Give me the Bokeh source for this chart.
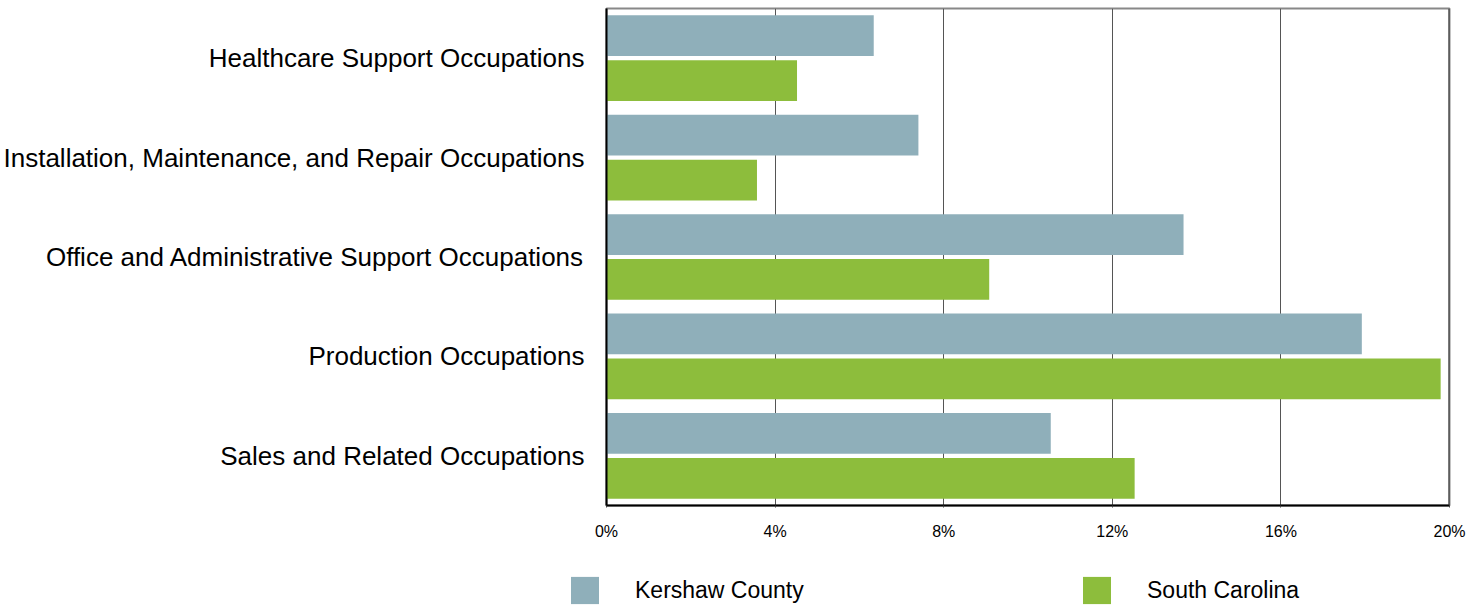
from bokeh.plotting import figure
from bokeh.layouts import column
from bokeh.models import ColumnDataSource, FactorRange, Legend, LegendItem, Span, FixedTicker
from bokeh.transform import dodge
from bokeh.embed import file_html
from bokeh.resources import INLINE

categories = ["Healthcare Support Occupations",
              "Installation, Maintenance, and Repair Occupations",
              "Office and Administrative Support Occupations",
              "Production Occupations",
              "Sales and Related Occupations"]
kershaw = [6.34, 7.40, 13.69, 17.92, 10.54]
south_carolina = [4.52, 3.57, 9.08, 19.79, 12.53]
tick_values = [0, 4, 8, 12, 16, 20]
tick_labels = ["0%", "4%", "8%", "12%", "16%", "20%"]
series_names = ["Kershaw County", "South Carolina"]
colors = ["#8FAFBA", "#8DBD3C"]

src = ColumnDataSource(dict(cat=categories, k=kershaw, sc=south_carolina))

W = 1481
H1, H2 = 555, 51
p = figure(width=W, height=H1, output_backend="svg", toolbar_location=None,
           y_range=FactorRange(factors=list(reversed(categories)), range_padding=0),
           x_range=(0, 20))
p.frame_align = False
p.min_border_left = 603
p.min_border_right = 32
p.min_border_top = 8
p.min_border_bottom = H1 - 505

p.hbar(y=dodge("cat", 0.226, range=p.y_range), right="k", left=0, height=0.41,
       source=src, color=colors[0], line_color=None)
p.hbar(y=dodge("cat", -0.226, range=p.y_range), right="sc", left=0, height=0.41,
       source=src, color=colors[1], line_color=None)

p.xaxis.ticker = FixedTicker(ticks=tick_values)
p.xaxis.major_label_overrides = {v: l for v, l in zip(tick_values, tick_labels)}
p.xaxis.major_label_text_font = "'Liberation Sans', Arial"
p.xaxis.major_label_text_font_size = "16px"
p.xaxis.major_label_text_color = "#000000"
p.xaxis.major_label_standoff = 15
p.xaxis.major_tick_in = 0
p.xaxis.major_tick_out = 2
p.xaxis.major_tick_line_color = "#444444"
p.xaxis.minor_tick_line_color = None
p.xaxis.axis_line_color = "#000000"
p.xaxis.axis_line_width = 2

p.yaxis.major_label_text_font = "'Liberation Sans', Arial"
p.yaxis.major_label_text_font_size = "26px"
p.yaxis.major_label_text_color = "#000000"
p.yaxis.major_label_standoff = 16
p.yaxis.major_tick_line_color = None
p.yaxis.minor_tick_line_color = None
p.yaxis.axis_line_color = "#000000"
p.yaxis.axis_line_width = 2

p.ygrid.grid_line_color = None
p.xgrid.grid_line_color = "#555555"
p.xgrid.grid_line_width = 1

p.outline_line_color = "#888888"
p.outline_line_width = 2
p.add_layout(Span(location=20, dimension="height", line_color="#333333", line_width=2))

# legend strip
p2 = figure(width=W, height=H2, output_backend="svg", toolbar_location=None,
            x_range=(0, 1), y_range=(0, 1), x_axis_location=None, y_axis_location=None)
p2.frame_align = False
p2.min_border_left = 0
p2.min_border_right = 0
p2.min_border_top = 0
p2.min_border_bottom = 0
p2.outline_line_color = None
p2.grid.grid_line_color = None

nan = float("nan")
for name, col, vx in [(series_names[0], colors[0], 567), (series_names[1], colors[1], 1079)]:
    rr = p2.rect(x=[nan], y=[nan], width=1, height=1, color=col, line_color=None)
    leg = Legend(items=[LegendItem(label=name, renderers=[rr])], location=(vx, -1),
                 orientation="horizontal", padding=0, margin=0, border_line_color=None,
                 background_fill_alpha=0, glyph_width=35, glyph_height=34,
                 label_height=34, label_standoff=33,
                 label_text_font="'Liberation Sans', Arial",
                 label_text_font_size="23px", label_text_color="#000000")
    p2.add_layout(leg, "center")

layout = column(p, p2, spacing=0)
open("out.html", "w").write(file_html(layout, INLINE))
